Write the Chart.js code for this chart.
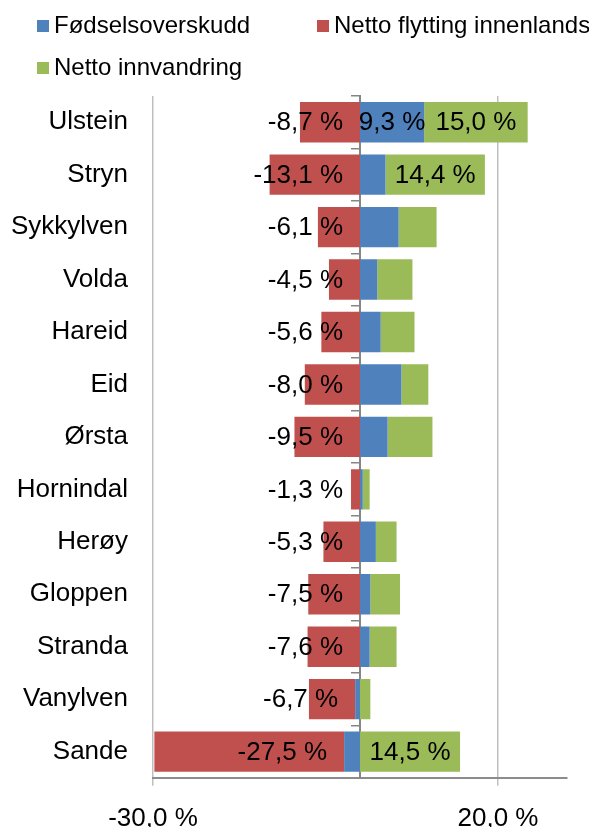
<!DOCTYPE html>
<html>
<head>
<meta charset="utf-8">
<script src="https://cdn.jsdelivr.net/npm/chart.js@4.4.0/dist/chart.umd.min.js"></script>
<style>
    html, body { margin: 0; padding: 0; background: #fff; overflow: hidden; }
    #wrap { position: relative; width: 589px; height: 860px; }
    #legend { position: absolute; left: 0; top: 0; width: 589px; height: 90px; font-family: "Liberation Sans", Arial, sans-serif; font-size: 24px; color: #000; }
    .item { position: absolute; white-space: nowrap; line-height: 28px; }
    .box { display: inline-block; width: 12px; height: 12px; margin-right: 5px; vertical-align: 1px; }
</style>
</head>
<body>
<div id="wrap">
    <canvas id="migration-chart" width="589" height="860"></canvas>
    <div id="legend"></div>
</div>
<script>
// Befolkningsvekst per kommune, i prosent
const municipalities = ['Ulstein', 'Stryn', 'Sykkylven', 'Volda', 'Hareid', 'Eid', 'Ørsta', 'Hornindal', 'Herøy', 'Gloppen', 'Stranda', 'Vanylven', 'Sande'];
const birthSurplus = [9.3, 3.7, 5.6, 2.5, 3.0, 6.0, 4.0, 0.4, 2.3, 1.5, 1.4, -0.7, -2.3];
const domesticMoves = [-8.7, -13.1, -6.1, -4.5, -5.6, -8.0, -9.5, -1.3, -5.3, -7.5, -7.6, -6.7, -27.5];
const immigration = [15.0, 14.4, 5.5, 5.1, 4.9, 3.9, 6.5, 1.0, 3.0, 4.3, 3.9, 1.5, 14.5];
const xTicks = [-30, 20];

// which rows carry a value label in the original
const birthLabelRows = ['Ulstein'];
const domesticLabelRows = municipalities;
const immigrationLabelRows = ['Ulstein', 'Stryn', 'Sande'];

const FONT = '"Liberation Sans", Arial, sans-serif';

function pct(v) {
    return v.toFixed(1).replace('.', ',') + ' %';
}

// valueLabels draws the data labels on the bars that have them
const valueLabels = {
    id: 'valueLabels',
    afterDatasetsDraw(chart) {
        const ctx = chart.ctx;
        ctx.save();
        ctx.font = '26px ' + FONT;
        ctx.fillStyle = '#000';
        ctx.textBaseline = 'middle';
        chart.data.datasets.forEach((ds, i) => {
            const meta = chart.getDatasetMeta(i);
            meta.data.forEach((bar, j) => {
                if (!ds.labelRows.includes(municipalities[j])) return;
                const text = pct(ds.data[j]);
                if (ds.data[j] < 0) {
                    ctx.textAlign = 'right';
                    ctx.fillText(text, bar.base - 17, bar.y + 1);
                } else {
                    ctx.textAlign = 'center';
                    ctx.fillText(text, (bar.x + bar.base) / 2, bar.y + 1);
                }
            });
        });
        ctx.restore();
    }
};

function buildLegend(datasets) {
    const el = document.getElementById('legend');
    const spots = [[37, 11], [317, 11], [37, 53]];
    datasets.forEach((ds, i) => {
        const item = document.createElement('div');
        item.className = 'item';
        item.style.left = spots[i][0] + 'px';
        item.style.top = spots[i][1] + 'px';
        item.innerHTML = '<span class="box" style="background:' + ds.backgroundColor + '"></span>' + ds.label;
        el.appendChild(item);
    });
}

function createMigrationChart(targetID) {
    const ctx = document.getElementById(targetID).getContext('2d');
    const datasets = [{
        label: 'Fødselsoverskudd',
        data: birthSurplus,
        backgroundColor: '#4f81bd',
        labelRows: birthLabelRows
    }, {
        label: 'Netto flytting innenlands',
        data: domesticMoves,
        backgroundColor: '#c0504d',
        labelRows: domesticLabelRows
    }, {
        label: 'Netto innvandring',
        data: immigration,
        backgroundColor: '#9bbb59',
        labelRows: immigrationLabelRows
    }];
    buildLegend(datasets);

    return new Chart(ctx, {
        type: 'bar',
        data: { labels: municipalities, datasets: datasets },
        options: {
            indexAxis: 'y',
            responsive: false,
            animation: false,
            events: [],
            categoryPercentage: 1,
            barPercentage: 0.77,
            layout: { padding: { top: 96, right: 22, bottom: 9, left: 0 } },
            plugins: { legend: { display: false }, tooltip: { enabled: false } },
            scales: {
                x: {
                    stacked: true,
                    min: -30,
                    max: 30,
                    afterBuildTicks: scale => { scale.ticks = xTicks.map(v => ({ value: v })); },
                    grid: { color: '#bfbfbf', lineWidth: 1.5, tickLength: 8 },
                    border: { color: '#8c8c8c', width: 2 },
                    ticks: {
                        color: '#000',
                        padding: 17,
                        maxRotation: 0,
                        font: { family: FONT, size: 26 },
                        callback: v => pct(v)
                    }
                },
                y: {
                    stacked: true,
                    afterFit: scale => { scale.width = 153; },
                    grid: { display: false, drawTicks: false },
                    border: { display: false },
                    ticks: { color: '#000', padding: 25, font: { family: FONT, size: 26 } }
                },
                // the zero line with its small tick marks
                y2: {
                    type: 'category',
                    axis: 'y',
                    position: { x: 0 },
                    offset: true,
                    grid: { offset: true, drawOnChartArea: false, tickLength: 8, color: '#868686', lineWidth: 1.5 },
                    border: { color: '#868686', width: 2 },
                    ticks: { display: false }
                }
            }
        },
        plugins: [valueLabels]
    });
}

createMigrationChart('migration-chart');
</script>
</body>
</html>
